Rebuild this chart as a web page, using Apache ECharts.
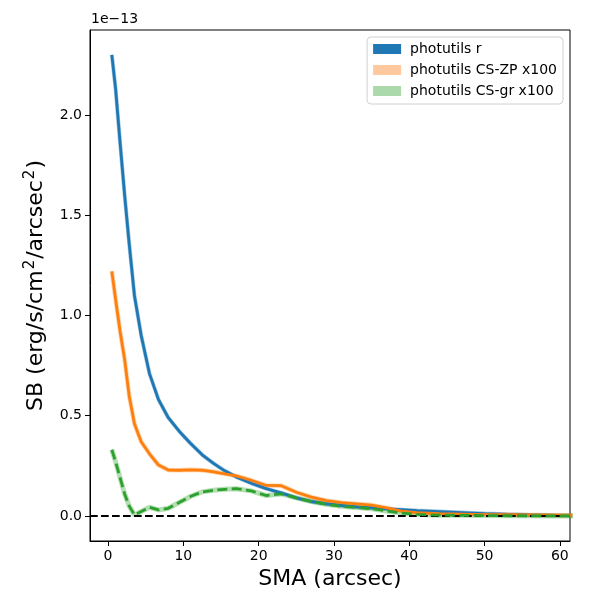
<!DOCTYPE html>
<html>
<head>
<meta charset="utf-8">
<script src="https://cdn.jsdelivr.net/npm/echarts@6/dist/echarts.min.js"></script>
<style>html,body{margin:0;padding:0;background:#fff}#c{width:600px;height:600px}</style>
</head>
<body>
<div id="c"></div>
<script>
// SMA (arcsec) and surface brightness in units of 1e-13 erg/s/cm^2/arcsec^2
const sma = [0.5, 1.0, 1.6, 2.2, 2.8, 3.5, 4.4, 5.5, 6.7, 8.0, 9.5, 11.0, 12.5, 14.0, 15.5, 17.0, 19.0, 21.0, 23.0, 25.0, 27.0, 29.0, 31.0, 33.0, 35.0, 37.0, 39.0, 41.0, 44.0, 47.0, 50.0, 53.0, 56.0, 59.0, 62.0];
const sbR = [2.30, 2.13, 1.86, 1.60, 1.36, 1.10, 0.90, 0.71, 0.58, 0.49, 0.42, 0.36, 0.305, 0.262, 0.225, 0.195, 0.163, 0.136, 0.115, 0.090, 0.072, 0.060, 0.052, 0.045, 0.040, 0.035, 0.031, 0.027, 0.022, 0.017, 0.012, 0.008, 0.005, 0.003, 0.002];
const sbZP = [1.22, 1.08, 0.92, 0.78, 0.60, 0.46, 0.37, 0.31, 0.254, 0.229, 0.228, 0.230, 0.228, 0.220, 0.210, 0.200, 0.178, 0.152, 0.151, 0.118, 0.094, 0.076, 0.066, 0.060, 0.054, 0.040, 0.024, 0.016, 0.011, 0.009, 0.007, 0.006, 0.005, 0.004, 0.003];
const sbGR = [0.33, 0.27, 0.19, 0.11, 0.05, 0.005, 0.022, 0.043, 0.030, 0.038, 0.068, 0.098, 0.120, 0.128, 0.133, 0.136, 0.125, 0.102, 0.110, 0.090, 0.072, 0.058, 0.048, 0.042, 0.036, 0.025, 0.014, 0.008, 0.004, 0.003, 0.002, 0.001, 0.001, 0.000, 0.000];
const xTicks = [0, 10, 20, 30, 40, 50, 60];
const yTicks = [0, 0.5, 1.0, 1.5, 2.0];
const names = ['photutils r', 'photutils CS-ZP x100', 'photutils CS-gr x100'];

const pairs = arr => sma.map((x, i) => [x, arr[i]]);
const font = 'DejaVu Sans';

const chart = echarts.init(document.getElementById('c'));
chart.setOption({
  animation: false,
  backgroundColor: '#fff',
  textStyle: { fontFamily: font },
  grid: { left: 90, right: 30, top: 30, bottom: 59, show: true, borderColor: '#000', borderWidth: 1, backgroundColor: 'transparent' },
  graphic: [{ type: 'text', left: 91, top: 12, style: { text: '1e\u221213', font: '14px "DejaVu Sans"', fill: '#000' } }],
  legend: {
    orient: 'vertical', right: 37, top: 37, padding: [5, 6, 6, 6], itemGap: 7,
    itemWidth: 28, itemHeight: 10, icon: 'rect',
    borderColor: '#d0d0d0', borderWidth: 1, borderRadius: 4, backgroundColor: 'rgba(255,255,255,0.8)',
    textStyle: { fontFamily: font, fontSize: 14, color: '#000', padding: [0, 0, 0, 4] },
    data: [
      { name: names[0], itemStyle: { color: '#1f77b4' } },
      { name: names[1], itemStyle: { color: '#ffc89e' } },
      { name: names[2], itemStyle: { color: '#abd9ab' } }
    ]
  },
  xAxis: {
    type: 'value', min: -2.4, max: 61.35,
    name: 'SMA (arcsec)', nameLocation: 'middle', nameGap: 26,
    nameTextStyle: { fontFamily: font, fontSize: 22, color: '#000' },
    axisLine: { show: true, onZero: false, lineStyle: { color: '#000', width: 1 } },
    axisTick: { show: true, length: 5, lineStyle: { color: '#000' }, customValues: xTicks },
    axisLabel: { fontFamily: font, fontSize: 14, color: '#000', margin: 8, customValues: xTicks },
    splitLine: { show: false }
  },
  yAxis: {
    type: 'value', min: -0.125, max: 2.424,
    name: '{b|SB (erg/s/cm}{s|2}{b|/arcsec}{s|2}{b|)}', nameLocation: 'middle', nameGap: 40, nameRotate: 90,
    nameTextStyle: { fontFamily: font, fontSize: 22, color: '#000',
      rich: {
        b: { fontFamily: font, fontSize: 22, color: '#000' },
        s: { fontFamily: font, fontSize: 15, color: '#000', padding: [0, 1, 12, 1] }
      } },
    axisLine: { show: true, onZero: false, lineStyle: { color: '#000', width: 1 } },
    axisTick: { show: true, length: 5, lineStyle: { color: '#000' }, customValues: yTicks },
    axisLabel: { fontFamily: font, fontSize: 14, color: '#000', margin: 8, customValues: yTicks, formatter: v => v.toFixed(1) },
    splitLine: { show: false }
  },
  series: [
    { name: 'bandR', type: 'line', data: pairs(sbR), showSymbol: false, silent: true, z: 1,
      lineStyle: { color: '#1f77b4', width: 4, opacity: 0.4 } },
    { name: 'bandZP', type: 'line', data: pairs(sbZP), showSymbol: false, silent: true, z: 1,
      lineStyle: { color: '#ff7f0e', width: 4.5, opacity: 0.35 } },
    { name: 'bandGR', type: 'line', data: pairs(sbGR), showSymbol: false, silent: true, z: 1,
      lineStyle: { color: '#2ca02c', width: 5, opacity: 0.35 } },
    { name: names[0], type: 'line', data: pairs(sbR), showSymbol: false, z: 3, color: '#1f77b4',
      lineStyle: { color: '#1f77b4', width: 2.8 },
      markLine: { silent: true, symbol: 'none', label: { show: false },
        lineStyle: { color: '#000', type: [7.7, 3.3], width: 2 }, data: [{ yAxis: 0 }] } },
    { name: names[1], type: 'line', data: pairs(sbZP), showSymbol: false, z: 4, color: '#ff7f0e',
      lineStyle: { color: '#ff7f0e', width: 2.8 } },
    { name: names[2], type: 'line', data: pairs(sbGR), showSymbol: false, z: 5, color: '#2ca02c',
      lineStyle: { color: '#2ca02c', width: 2.8, type: [10, 4.4] } }
  ]
});
</script>
</body>
</html>
